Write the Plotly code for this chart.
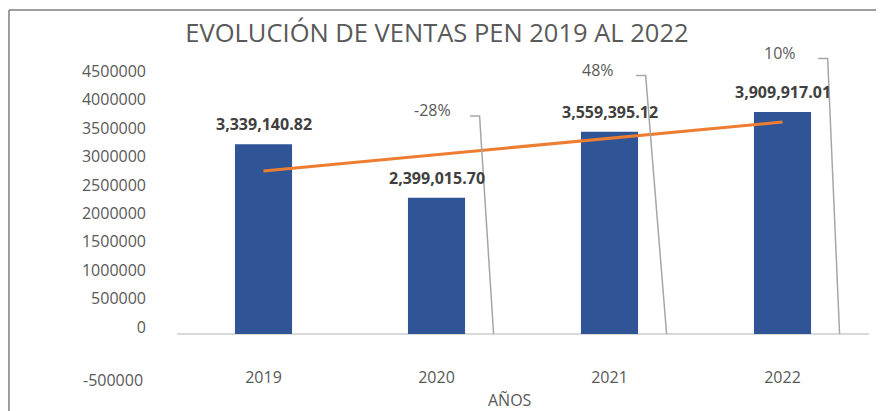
import numpy as np
import plotly.graph_objects as go

# data
years = ["2019", "2020", "2021", "2022"]
ventas = [3339140.82, 2399015.70, 3559395.12, 3909917.01]
y_ticks = [0, 500000, 1000000, 1500000, 2000000, 2500000,
           3000000, 3500000, 4000000, 4500000]

# where the % labels were dragged to (layout only)
pct_label_x = [0.974, 1.934, 2.986]
pct_label_y = [3.94e6, 4.65e6, 4.95e6]

GRAY = "#595959"
FONT = "Open Sans"

xs = np.arange(len(years))
ventas_arr = np.array(ventas)

# linear trend line (like excel)
slope, intercept = np.polyfit(xs, ventas_arr, 1)
trend = slope * xs + intercept

# year-over-year change
pct = ventas_arr[1:] / ventas_arr[:-1] - 1

fig = go.Figure()

fig.add_trace(go.Bar(
    x=xs, y=ventas, width=0.33,
    marker=dict(color="#2F5597", line=dict(width=0)),
    hoverinfo="skip",
))

fig.add_trace(go.Scatter(
    x=[xs[0], xs[-1]], y=[trend[0], trend[-1]],
    mode="lines",
    line=dict(color="#ED7D31", width=3),
    hoverinfo="skip",
))

# leader lines for the % labels
lx, ly = [], []
for i, p in enumerate(pct):
    tx, ty = pct_label_x[i], pct_label_y[i]
    lx += [tx + 0.22, tx + 0.275, xs[i + 1] + 0.33, None]
    ly += [ty - 0.1e6, ty - 0.1e6, 0, None]
fig.add_trace(go.Scatter(
    x=lx, y=ly, mode="lines",
    line=dict(color="#A6A6A6", width=1.5),
    hoverinfo="skip",
))

annotations = []
for i, v in enumerate(ventas):
    annotations.append(dict(
        x=xs[i], y=v, text=f"{v:,.2f}", showarrow=False,
        yshift=20, font=dict(family=FONT, size=16, color="#404040", weight="bold"),
    ))
for i, p in enumerate(pct):
    annotations.append(dict(
        x=pct_label_x[i], y=pct_label_y[i], text=f"{p:.0%}", showarrow=False,
        font=dict(family=FONT, size=16, color=GRAY),
    ))
# the odd low tick label
annotations.append(dict(
    xref="paper", yref="paper", x=-0.046, y=-0.086, xanchor="right",
    text="-500000", showarrow=False, font=dict(family=FONT, size=16, color=GRAY),
))
annotations.append(dict(
    xref="paper", yref="paper", x=0.481, y=-0.15,
    text="AÑOS", showarrow=False, font=dict(family=FONT, size=16, color=GRAY),
))

# page has an 8px body margin, so the figure is shrunk to fit the window
fig.update_layout(
    width=876, height=403,
    margin=dict(l=169, r=15, t=42, b=45, autoexpand=False),
    paper_bgcolor="white", plot_bgcolor="white",
    showlegend=False,
    title=dict(text="EVOLUCIÓN DE VENTAS PEN 2019 AL 2022",
               x=0.4897, xanchor="center", y=0.938, yanchor="middle",
               font=dict(family=FONT, size=25.5, color=GRAY)),
    annotations=annotations,
    shapes=[
        dict(type="line", xref="paper", yref="paper",
             x0=-0.2428, x1=-0.2428, y0=1.1266, y1=-0.3,
             line=dict(color="#7F7F7F", width=1.5)),
        dict(type="line", xref="paper", yref="paper",
             x0=-0.2428, x1=1.05, y0=1.1266, y1=1.1266,
             line=dict(color="#7F7F7F", width=1.5)),
    ],
)

fig.update_xaxes(
    range=[-0.5, 3.5], tickvals=xs, ticktext=years,
    showgrid=False, showline=False, zeroline=False, automargin=False,
    tickfont=dict(family=FONT, size=16, color=GRAY),
)
fig.update_yaxes(
    range=[-0.563e6, 5.0e6], tickvals=y_ticks, ticktext=[str(t) for t in y_ticks],
    showgrid=False, showline=False, automargin=False,
    zeroline=True, zerolinecolor="#D9D9D9", zerolinewidth=1.5,
    ticklabelstandoff=30, ticklabelshift=-7,
    tickfont=dict(family=FONT, size=16, color=GRAY),
)

fig.write_html("out.html")
